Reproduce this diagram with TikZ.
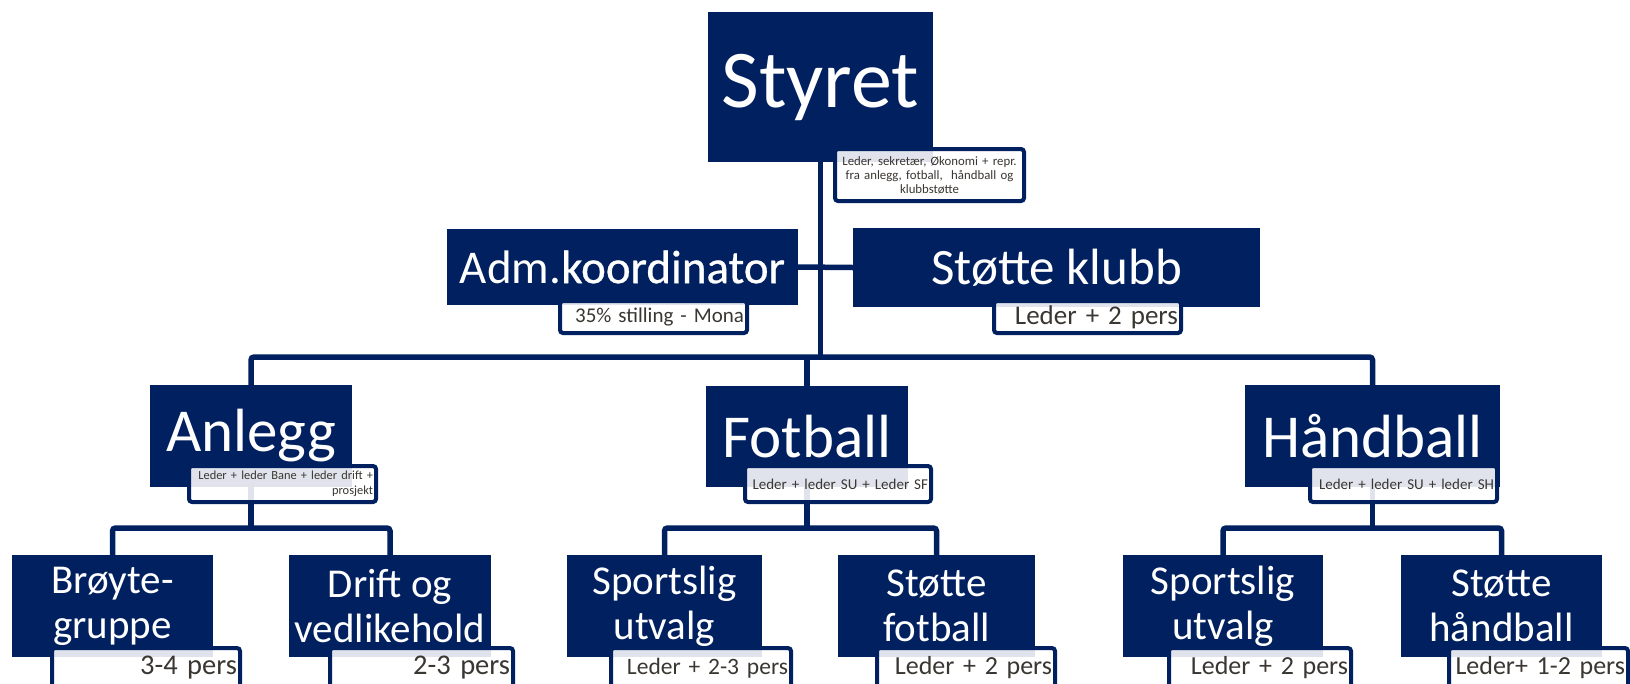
\documentclass[tikz,border=0pt]{standalone}
\usepackage{fontspec}
\setmainfont{Carlito}
\newfontfamily\heavier[FakeBold=0.6]{Carlito}
\usetikzlibrary{backgrounds}
\definecolor{navy}{RGB}{0,32,96}
\definecolor{subtext}{RGB}{58,54,50}

\begin{document}
\begin{tikzpicture}[x=1pt,y=-1pt,
    unit/.style={fill=navy,text=white,inner sep=0pt,align=center},
    sub/.style={draw=navy,line width=4pt,rounded corners=3pt,fill=white,fill opacity=0.88,
      text opacity=1,text=subtext,inner xsep=3pt,inner ysep=0pt,align=right},
    link/.style={draw=navy,line width=5.5pt,rounded corners=3pt}]
    \useasboundingbox (0,0) rectangle (1630,683);
    \coordinate (row1) at (0,357);
    \coordinate (row2) at (0,528);
    % top
    \node[unit,minimum width=225pt,minimum height=150pt,font=\fontsize{82}{90}\selectfont] (styret) at (820.5,87) {Styret};
    \node[sub,text width=183pt,minimum height=52pt,align=center,font=\fontsize{12.8}{14}\selectfont] (styretsub) at (929.5,175)
      {Leder, sekret\ae r, \O konomi + repr.\\fra anlegg, fotball,\ \ h\aa ndball og\\klubbst\o tte};
    \node[unit,minimum width=351pt,minimum height=76pt,font=\fontsize{47}{52}\selectfont] (adm) at (622.5,267) {Adm.{\heavier koordinator}};
    \node[sub,text width=181pt,minimum height=32pt,font=\fontsize{21}{24}\selectfont] (admsub) at (653.5,317) {35\% stilling - Mona};
    \node[unit,minimum width=407pt,minimum height=79pt,font=\fontsize{51}{56}\selectfont] (klubb) at (1056.5,267.5) {St\o tte klubb};
    \node[sub,text width=181pt,minimum height=32pt,font=\fontsize{27}{30}\selectfont] (klubbsub) at (1087.5,317) {Leder + 2 pers};
    % middle row
    \node[unit,minimum width=202pt,minimum height=102pt,font=\fontsize{61}{66}\selectfont] (anlegg) at (251,436) {Anlegg};
    \node[sub,text width=181pt,minimum height=36pt,font=\fontsize{12.4}{15}\selectfont] (anleggsub) at (282.5,484)
      {Leder + leder Bane + leder drift +\\prosjekt};
    \node[unit,minimum width=202pt,minimum height=101pt,font=\fontsize{61}{66}\selectfont] (fotball) at (807,436.5) {Fotball};
    \node[sub,text width=180pt,minimum height=36pt,font=\fontsize{15}{18}\selectfont] (fotballsub) at (838,484) {Leder + leder SU + Leder SF};
    \node[unit,minimum width=255pt,minimum height=102pt,font=\fontsize{61}{66}\selectfont] (hand) at (1372.5,436) {H\aa ndball};
    \node[sub,text width=181pt,minimum height=36pt,font=\fontsize{15}{18}\selectfont] (handsub) at (1403.5,484) {Leder + leder SU + leder SH};
    % bottom row
    \tikzset{leaf/.style={unit,minimum height=102pt,font=\fontsize{41}{45}\selectfont},
      leafsub/.style={sub,minimum height=40pt,font=\fontsize{#1}{30}\selectfont},leafsub/.default=26}
    \node[leaf,minimum width=201pt] (broyte) at (112.5,606) {Br\o yte-\\gruppe};
    \node[leafsub=28.5,text width=182pt] (broytesub) at (146,668) {3-4 pers};
    \node[leaf,minimum width=202pt] (drift) at (390,606) {Drift og\\vedlikehold};
    \node[leafsub=28.5,text width=177pt] (driftsub) at (421.5,668) {2-3 pers};
    \node[leaf,minimum width=195pt] (sportf) at (664.5,606) {Sportslig\\utvalg};
    \node[leafsub=23.5,text width=174pt] (sportfsub) at (701,668) {Leder + 2-3 pers};
    \node[leaf,minimum width=197pt] (stottef) at (936.5,606) {St\o tte\\fotball};
    \node[leafsub,text width=172pt] (stottefsub) at (966,668) {Leder + 2 pers};
    \node[leaf,minimum width=200pt] (sporth) at (1223,606) {Sportslig\\utvalg};
    \node[leafsub,text width=176pt] (sporthsub) at (1260,668) {Leder + 2 pers};
    \node[leaf,minimum width=201pt] (stotteh) at (1501.5,606) {St\o tte\\h\aa ndball};
    \node[leafsub,text width=173pt] (stottehsub) at (1538.5,668) {Leder+ 1-2 pers};
    % lines
    \begin{scope}[on background layer]
    \draw[link] (styret.south) -- (styret.south |- row1);
    \draw[link] (adm.east) -- (klubb.west);
    \draw[link] (anlegg.north) |- (row1 -| fotball.north) -| (hand.north);
    \draw[link] (fotball.north) -- (row1 -| fotball.north);
    \draw[link] (anlegg.south) -- (row2 -| anlegg.south);
    \draw[link] (broyte.north) |- (row2 -| anlegg.south) -| (drift.north);
    \draw[link] (fotball.south) -- (row2 -| fotball.south);
    \draw[link] (sportf.north) |- (row2 -| fotball.south) -| (stottef.north);
    \draw[link] (hand.south) -- (row2 -| hand.south);
    \draw[link] (sporth.north) |- (row2 -| hand.south) -| (stotteh.north);
    \end{scope}
\end{tikzpicture}
\end{document}
